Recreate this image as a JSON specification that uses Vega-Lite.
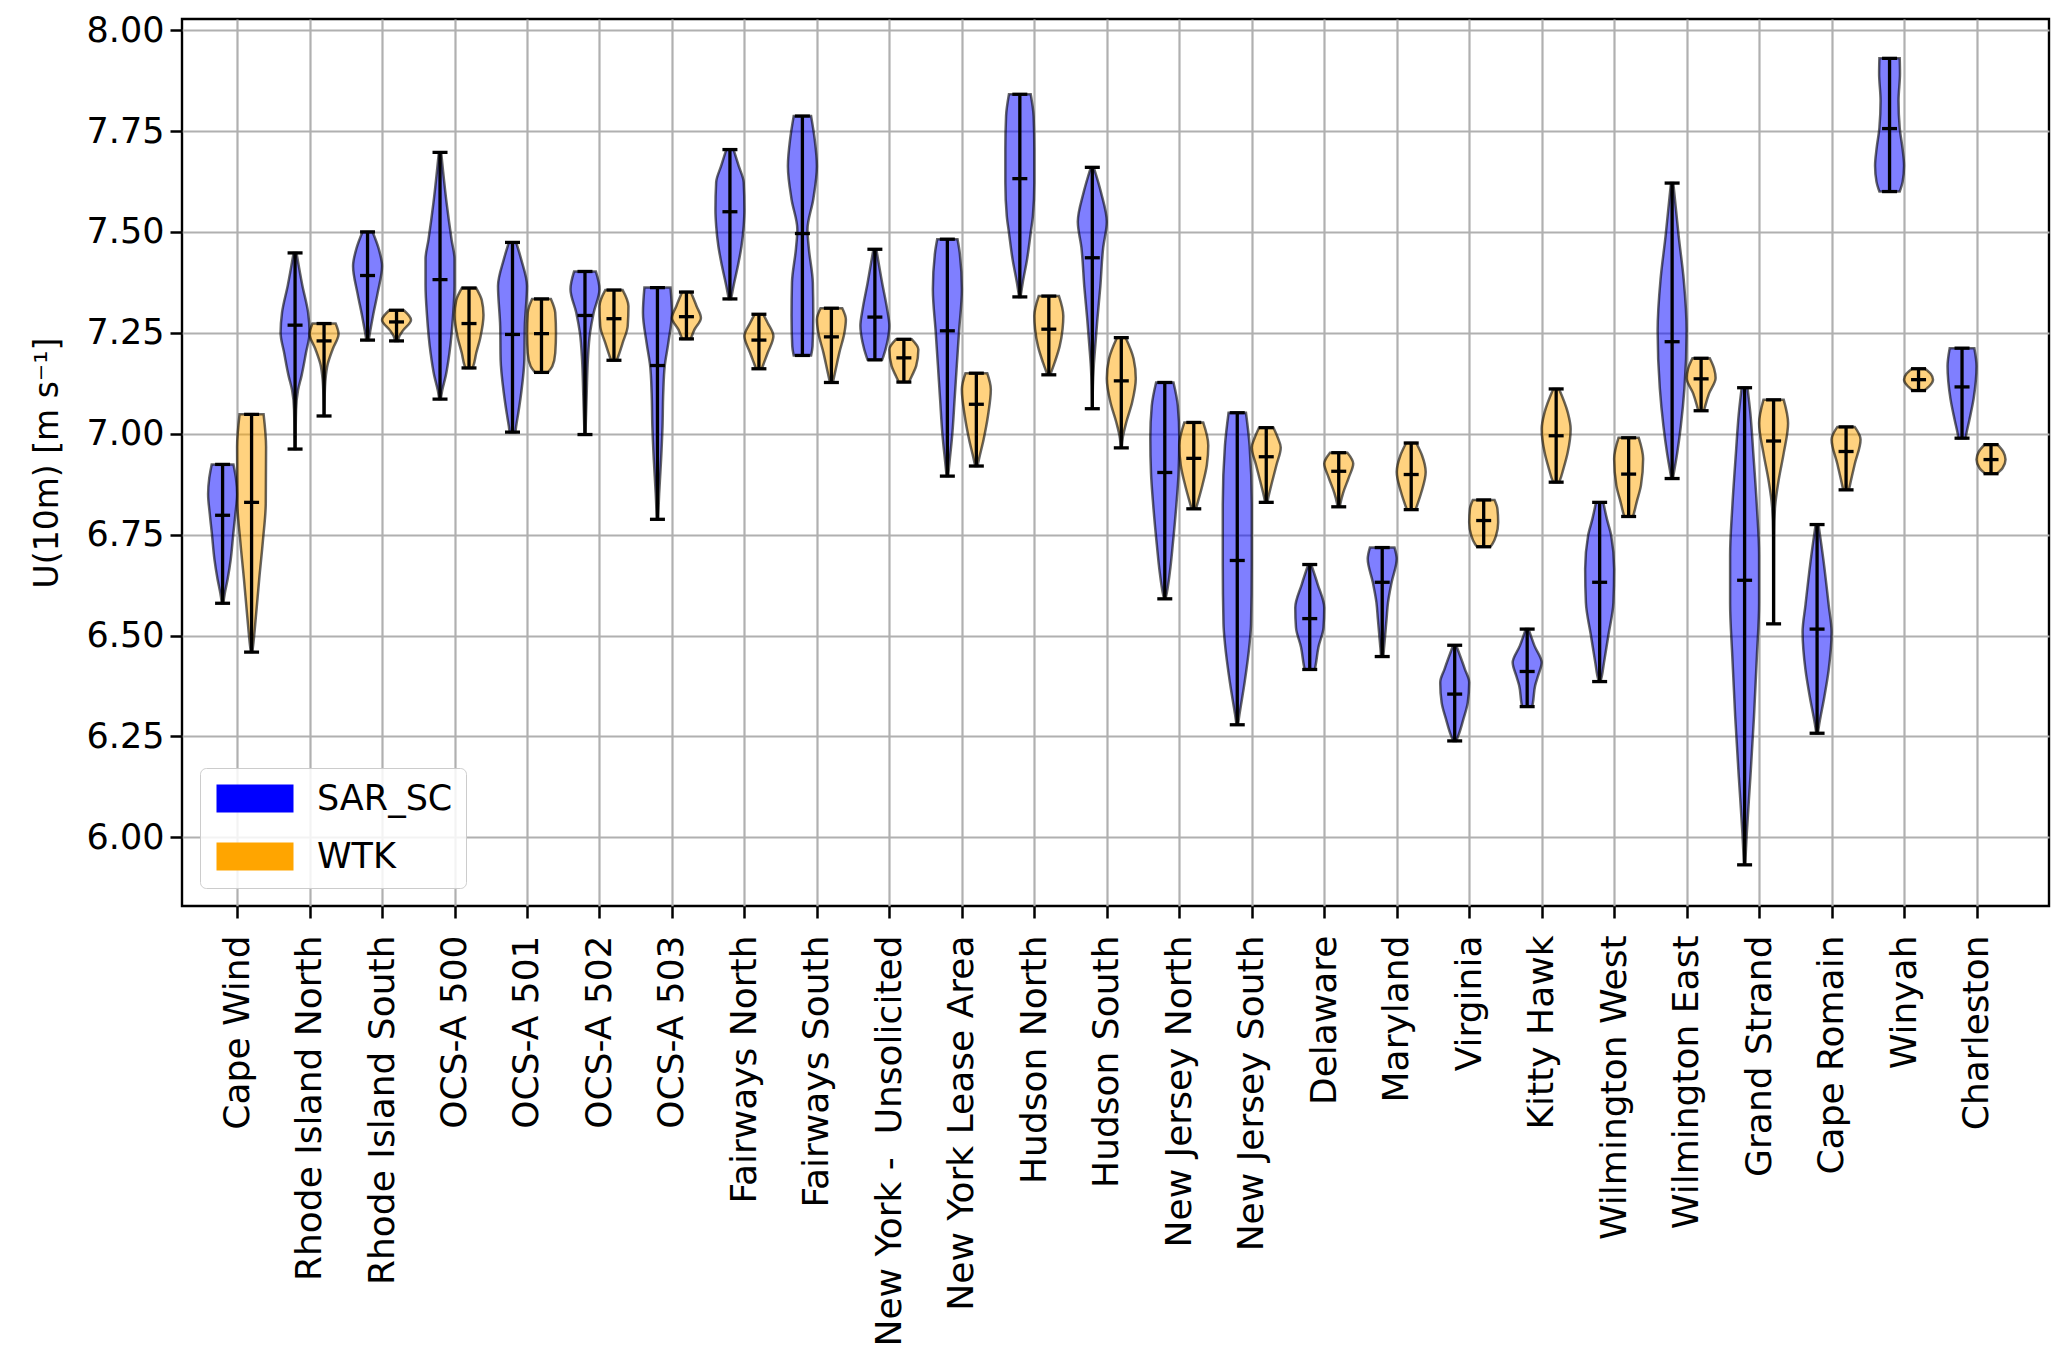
{
  "$schema": "https://vega.github.io/schema/vega-lite/v6.json",
  "autosize": {"type": "none"},
  "width": 1867,
  "height": 887,
  "padding": {"left": 182, "top": 19, "right": 18, "bottom": 466},
  "background": "white",
  "config": {
    "font": "DejaVu Sans",
    "view": {"stroke": "#000000", "strokeWidth": 2.4},
    "axis": {"labelFont": "DejaVu Sans", "titleFont": "DejaVu Sans", "labelColor": "#000000", "titleColor": "#000000"}
  },
  "datasets": {
    "violin": [
      {"site":"Cape Wind","src":"SAR_SC","v":6.924,"lo":0.65,"hi":0.95},
      {"site":"Cape Wind","src":"SAR_SC","v":6.89,"lo":0.616,"hi":0.984},
      {"site":"Cape Wind","src":"SAR_SC","v":6.851,"lo":0.6,"hi":1.0},
      {"site":"Cape Wind","src":"SAR_SC","v":6.8,"lo":0.624,"hi":0.976},
      {"site":"Cape Wind","src":"SAR_SC","v":6.753,"lo":0.652,"hi":0.948},
      {"site":"Cape Wind","src":"SAR_SC","v":6.688,"lo":0.688,"hi":0.912},
      {"site":"Cape Wind","src":"SAR_SC","v":6.64,"lo":0.73,"hi":0.87},
      {"site":"Cape Wind","src":"SAR_SC","v":6.604,"lo":0.77,"hi":0.83},
      {"site":"Cape Wind","src":"SAR_SC","v":6.58,"lo":0.79,"hi":0.81},
      {"site":"Cape Wind","src":"WTK","v":7.048,"lo":1.034,"hi":1.366},
      {"site":"Cape Wind","src":"WTK","v":6.967,"lo":1.0,"hi":1.4},
      {"site":"Cape Wind","src":"WTK","v":6.828,"lo":1.004,"hi":1.396},
      {"site":"Cape Wind","src":"WTK","v":6.734,"lo":1.044,"hi":1.356},
      {"site":"Cape Wind","src":"WTK","v":6.641,"lo":1.094,"hi":1.306},
      {"site":"Cape Wind","src":"WTK","v":6.548,"lo":1.14,"hi":1.26},
      {"site":"Cape Wind","src":"WTK","v":6.473,"lo":1.18,"hi":1.22},
      {"site":"Cape Wind","src":"WTK","v":6.459,"lo":1.19,"hi":1.21},
      {"site":"Rhode Island North","src":"SAR_SC","v":7.448,"lo":1.78,"hi":1.82},
      {"site":"Rhode Island North","src":"SAR_SC","v":7.368,"lo":1.7,"hi":1.9},
      {"site":"Rhode Island North","src":"SAR_SC","v":7.3,"lo":1.62,"hi":1.98},
      {"site":"Rhode Island North","src":"SAR_SC","v":7.25,"lo":1.6,"hi":2.0},
      {"site":"Rhode Island North","src":"SAR_SC","v":7.2,"lo":1.65,"hi":1.95},
      {"site":"Rhode Island North","src":"SAR_SC","v":7.144,"lo":1.71,"hi":1.89},
      {"site":"Rhode Island North","src":"SAR_SC","v":7.107,"lo":1.76,"hi":1.84},
      {"site":"Rhode Island North","src":"SAR_SC","v":7.06,"lo":1.786,"hi":1.814},
      {"site":"Rhode Island North","src":"SAR_SC","v":6.962,"lo":1.794,"hi":1.806},
      {"site":"Rhode Island North","src":"WTK","v":7.273,"lo":2.04,"hi":2.36},
      {"site":"Rhode Island North","src":"WTK","v":7.247,"lo":2.0,"hi":2.4},
      {"site":"Rhode Island North","src":"WTK","v":7.21,"lo":2.08,"hi":2.32},
      {"site":"Rhode Island North","src":"WTK","v":7.172,"lo":2.15,"hi":2.25},
      {"site":"Rhode Island North","src":"WTK","v":7.135,"lo":2.18,"hi":2.22},
      {"site":"Rhode Island North","src":"WTK","v":7.09,"lo":2.192,"hi":2.208},
      {"site":"Rhode Island North","src":"WTK","v":7.044,"lo":2.196,"hi":2.204},
      {"site":"Rhode Island South","src":"SAR_SC","v":7.5,"lo":2.73,"hi":2.87},
      {"site":"Rhode Island South","src":"SAR_SC","v":7.461,"lo":2.65,"hi":2.95},
      {"site":"Rhode Island South","src":"SAR_SC","v":7.415,"lo":2.6,"hi":3.0},
      {"site":"Rhode Island South","src":"SAR_SC","v":7.349,"lo":2.66,"hi":2.94},
      {"site":"Rhode Island South","src":"SAR_SC","v":7.293,"lo":2.724,"hi":2.876},
      {"site":"Rhode Island South","src":"SAR_SC","v":7.247,"lo":2.77,"hi":2.83},
      {"site":"Rhode Island South","src":"SAR_SC","v":7.232,"lo":2.784,"hi":2.816},
      {"site":"Rhode Island South","src":"WTK","v":7.306,"lo":3.1,"hi":3.3},
      {"site":"Rhode Island South","src":"WTK","v":7.282,"lo":3.0,"hi":3.4},
      {"site":"Rhode Island South","src":"WTK","v":7.256,"lo":3.11,"hi":3.29},
      {"site":"Rhode Island South","src":"WTK","v":7.242,"lo":3.16,"hi":3.24},
      {"site":"Rhode Island South","src":"WTK","v":7.23,"lo":3.18,"hi":3.22},
      {"site":"OCS-A 500","src":"SAR_SC","v":7.697,"lo":3.784,"hi":3.816},
      {"site":"OCS-A 500","src":"SAR_SC","v":7.573,"lo":3.71,"hi":3.89},
      {"site":"OCS-A 500","src":"SAR_SC","v":7.48,"lo":3.64,"hi":3.96},
      {"site":"OCS-A 500","src":"SAR_SC","v":7.433,"lo":3.6,"hi":4.0},
      {"site":"OCS-A 500","src":"SAR_SC","v":7.368,"lo":3.6,"hi":4.0},
      {"site":"OCS-A 500","src":"SAR_SC","v":7.294,"lo":3.62,"hi":3.98},
      {"site":"OCS-A 500","src":"SAR_SC","v":7.2,"lo":3.67,"hi":3.93},
      {"site":"OCS-A 500","src":"SAR_SC","v":7.144,"lo":3.72,"hi":3.88},
      {"site":"OCS-A 500","src":"SAR_SC","v":7.107,"lo":3.77,"hi":3.83},
      {"site":"OCS-A 500","src":"SAR_SC","v":7.086,"lo":3.79,"hi":3.81},
      {"site":"OCS-A 500","src":"WTK","v":7.361,"lo":4.1,"hi":4.3},
      {"site":"OCS-A 500","src":"WTK","v":7.331,"lo":4.024,"hi":4.376},
      {"site":"OCS-A 500","src":"WTK","v":7.294,"lo":4.0,"hi":4.4},
      {"site":"OCS-A 500","src":"WTK","v":7.238,"lo":4.044,"hi":4.356},
      {"site":"OCS-A 500","src":"WTK","v":7.2,"lo":4.1,"hi":4.3},
      {"site":"OCS-A 500","src":"WTK","v":7.168,"lo":4.14,"hi":4.26},
      {"site":"OCS-A 500","src":"WTK","v":7.163,"lo":4.15,"hi":4.25},
      {"site":"OCS-A 501","src":"SAR_SC","v":7.474,"lo":4.75,"hi":4.85},
      {"site":"OCS-A 501","src":"SAR_SC","v":7.432,"lo":4.68,"hi":4.92},
      {"site":"OCS-A 501","src":"SAR_SC","v":7.366,"lo":4.6,"hi":5.0},
      {"site":"OCS-A 501","src":"SAR_SC","v":7.267,"lo":4.63,"hi":4.97},
      {"site":"OCS-A 501","src":"SAR_SC","v":7.184,"lo":4.636,"hi":4.964},
      {"site":"OCS-A 501","src":"SAR_SC","v":7.101,"lo":4.68,"hi":4.92},
      {"site":"OCS-A 501","src":"SAR_SC","v":7.051,"lo":4.72,"hi":4.88},
      {"site":"OCS-A 501","src":"SAR_SC","v":7.018,"lo":4.75,"hi":4.85},
      {"site":"OCS-A 501","src":"SAR_SC","v":7.004,"lo":4.76,"hi":4.84},
      {"site":"OCS-A 501","src":"WTK","v":7.334,"lo":5.07,"hi":5.33},
      {"site":"OCS-A 501","src":"WTK","v":7.3,"lo":5.01,"hi":5.39},
      {"site":"OCS-A 501","src":"WTK","v":7.25,"lo":5.0,"hi":5.4},
      {"site":"OCS-A 501","src":"WTK","v":7.2,"lo":5.01,"hi":5.39},
      {"site":"OCS-A 501","src":"WTK","v":7.167,"lo":5.05,"hi":5.35},
      {"site":"OCS-A 501","src":"WTK","v":7.152,"lo":5.11,"hi":5.29},
      {"site":"OCS-A 502","src":"SAR_SC","v":7.402,"lo":5.65,"hi":5.95},
      {"site":"OCS-A 502","src":"SAR_SC","v":7.358,"lo":5.6,"hi":6.0},
      {"site":"OCS-A 502","src":"SAR_SC","v":7.3,"lo":5.68,"hi":5.92},
      {"site":"OCS-A 502","src":"SAR_SC","v":7.25,"lo":5.73,"hi":5.87},
      {"site":"OCS-A 502","src":"SAR_SC","v":7.184,"lo":5.76,"hi":5.84},
      {"site":"OCS-A 502","src":"SAR_SC","v":7.101,"lo":5.776,"hi":5.824},
      {"site":"OCS-A 502","src":"SAR_SC","v":7.018,"lo":5.79,"hi":5.81},
      {"site":"OCS-A 502","src":"SAR_SC","v":6.998,"lo":5.794,"hi":5.806},
      {"site":"OCS-A 502","src":"WTK","v":7.356,"lo":6.08,"hi":6.32},
      {"site":"OCS-A 502","src":"WTK","v":7.316,"lo":6.0,"hi":6.4},
      {"site":"OCS-A 502","src":"WTK","v":7.267,"lo":6.01,"hi":6.39},
      {"site":"OCS-A 502","src":"WTK","v":7.225,"lo":6.08,"hi":6.32},
      {"site":"OCS-A 502","src":"WTK","v":7.192,"lo":6.14,"hi":6.26},
      {"site":"OCS-A 502","src":"WTK","v":7.182,"lo":6.16,"hi":6.24},
      {"site":"OCS-A 503","src":"SAR_SC","v":7.362,"lo":6.62,"hi":6.98},
      {"site":"OCS-A 503","src":"SAR_SC","v":7.3,"lo":6.6,"hi":7.0},
      {"site":"OCS-A 503","src":"SAR_SC","v":7.225,"lo":6.65,"hi":6.95},
      {"site":"OCS-A 503","src":"SAR_SC","v":7.167,"lo":6.7,"hi":6.9},
      {"site":"OCS-A 503","src":"SAR_SC","v":7.101,"lo":6.72,"hi":6.88},
      {"site":"OCS-A 503","src":"SAR_SC","v":7.018,"lo":6.73,"hi":6.87},
      {"site":"OCS-A 503","src":"SAR_SC","v":6.935,"lo":6.75,"hi":6.85},
      {"site":"OCS-A 503","src":"SAR_SC","v":6.853,"lo":6.776,"hi":6.824},
      {"site":"OCS-A 503","src":"SAR_SC","v":6.788,"lo":6.792,"hi":6.808},
      {"site":"OCS-A 503","src":"WTK","v":7.351,"lo":7.14,"hi":7.26},
      {"site":"OCS-A 503","src":"WTK","v":7.316,"lo":7.06,"hi":7.34},
      {"site":"OCS-A 503","src":"WTK","v":7.287,"lo":7.0,"hi":7.4},
      {"site":"OCS-A 503","src":"WTK","v":7.258,"lo":7.09,"hi":7.31},
      {"site":"OCS-A 503","src":"WTK","v":7.235,"lo":7.14,"hi":7.26},
      {"site":"Fairways North","src":"SAR_SC","v":7.704,"lo":7.75,"hi":7.85},
      {"site":"Fairways North","src":"SAR_SC","v":7.664,"lo":7.68,"hi":7.92},
      {"site":"Fairways North","src":"SAR_SC","v":7.623,"lo":7.61,"hi":7.99},
      {"site":"Fairways North","src":"SAR_SC","v":7.556,"lo":7.6,"hi":8.0},
      {"site":"Fairways North","src":"SAR_SC","v":7.515,"lo":7.61,"hi":7.99},
      {"site":"Fairways North","src":"SAR_SC","v":7.465,"lo":7.64,"hi":7.96},
      {"site":"Fairways North","src":"SAR_SC","v":7.416,"lo":7.69,"hi":7.91},
      {"site":"Fairways North","src":"SAR_SC","v":7.366,"lo":7.75,"hi":7.85},
      {"site":"Fairways North","src":"SAR_SC","v":7.334,"lo":7.784,"hi":7.816},
      {"site":"Fairways North","src":"WTK","v":7.296,"lo":8.14,"hi":8.26},
      {"site":"Fairways North","src":"WTK","v":7.275,"lo":8.08,"hi":8.32},
      {"site":"Fairways North","src":"WTK","v":7.242,"lo":8.0,"hi":8.4},
      {"site":"Fairways North","src":"WTK","v":7.2,"lo":8.08,"hi":8.32},
      {"site":"Fairways North","src":"WTK","v":7.171,"lo":8.14,"hi":8.26},
      {"site":"Fairways North","src":"WTK","v":7.161,"lo":8.16,"hi":8.24},
      {"site":"Fairways South","src":"SAR_SC","v":7.787,"lo":8.68,"hi":8.92},
      {"site":"Fairways South","src":"SAR_SC","v":7.729,"lo":8.63,"hi":8.97},
      {"site":"Fairways South","src":"SAR_SC","v":7.663,"lo":8.6,"hi":9.0},
      {"site":"Fairways South","src":"SAR_SC","v":7.581,"lo":8.65,"hi":8.95},
      {"site":"Fairways South","src":"SAR_SC","v":7.506,"lo":8.73,"hi":8.87},
      {"site":"Fairways South","src":"SAR_SC","v":7.457,"lo":8.71,"hi":8.89},
      {"site":"Fairways South","src":"SAR_SC","v":7.374,"lo":8.656,"hi":8.944},
      {"site":"Fairways South","src":"SAR_SC","v":7.292,"lo":8.65,"hi":8.95},
      {"site":"Fairways South","src":"SAR_SC","v":7.217,"lo":8.66,"hi":8.94},
      {"site":"Fairways South","src":"SAR_SC","v":7.194,"lo":8.68,"hi":8.92},
      {"site":"Fairways South","src":"WTK","v":7.311,"lo":9.05,"hi":9.35},
      {"site":"Fairways South","src":"WTK","v":7.283,"lo":9.0,"hi":9.4},
      {"site":"Fairways South","src":"WTK","v":7.25,"lo":9.02,"hi":9.38},
      {"site":"Fairways South","src":"WTK","v":7.201,"lo":9.09,"hi":9.31},
      {"site":"Fairways South","src":"WTK","v":7.16,"lo":9.14,"hi":9.26},
      {"site":"Fairways South","src":"WTK","v":7.135,"lo":9.17,"hi":9.23},
      {"site":"Fairways South","src":"WTK","v":7.127,"lo":9.18,"hi":9.22},
      {"site":"New York - Unsolicited","src":"SAR_SC","v":7.457,"lo":9.78,"hi":9.82},
      {"site":"New York - Unsolicited","src":"SAR_SC","v":7.374,"lo":9.7,"hi":9.9},
      {"site":"New York - Unsolicited","src":"SAR_SC","v":7.308,"lo":9.63,"hi":9.97},
      {"site":"New York - Unsolicited","src":"SAR_SC","v":7.267,"lo":9.6,"hi":10.0},
      {"site":"New York - Unsolicited","src":"SAR_SC","v":7.226,"lo":9.63,"hi":9.97},
      {"site":"New York - Unsolicited","src":"SAR_SC","v":7.193,"lo":9.68,"hi":9.92},
      {"site":"New York - Unsolicited","src":"SAR_SC","v":7.183,"lo":9.7,"hi":9.9},
      {"site":"New York - Unsolicited","src":"WTK","v":7.234,"lo":10.09,"hi":10.31},
      {"site":"New York - Unsolicited","src":"WTK","v":7.209,"lo":10.0,"hi":10.4},
      {"site":"New York - Unsolicited","src":"WTK","v":7.168,"lo":10.03,"hi":10.37},
      {"site":"New York - Unsolicited","src":"WTK","v":7.143,"lo":10.09,"hi":10.31},
      {"site":"New York - Unsolicited","src":"WTK","v":7.128,"lo":10.13,"hi":10.27},
      {"site":"New York Lease Area","src":"SAR_SC","v":7.482,"lo":10.66,"hi":10.94},
      {"site":"New York Lease Area","src":"SAR_SC","v":7.449,"lo":10.63,"hi":10.97},
      {"site":"New York Lease Area","src":"SAR_SC","v":7.358,"lo":10.6,"hi":11.0},
      {"site":"New York Lease Area","src":"SAR_SC","v":7.25,"lo":10.64,"hi":10.96},
      {"site":"New York Lease Area","src":"SAR_SC","v":7.168,"lo":10.67,"hi":10.93},
      {"site":"New York Lease Area","src":"SAR_SC","v":7.085,"lo":10.7,"hi":10.9},
      {"site":"New York Lease Area","src":"SAR_SC","v":7.003,"lo":10.73,"hi":10.87},
      {"site":"New York Lease Area","src":"SAR_SC","v":6.93,"lo":10.77,"hi":10.83},
      {"site":"New York Lease Area","src":"SAR_SC","v":6.895,"lo":10.79,"hi":10.81},
      {"site":"New York Lease Area","src":"WTK","v":7.15,"lo":11.05,"hi":11.35},
      {"site":"New York Lease Area","src":"WTK","v":7.11,"lo":11.0,"hi":11.4},
      {"site":"New York Lease Area","src":"WTK","v":7.044,"lo":11.04,"hi":11.36},
      {"site":"New York Lease Area","src":"WTK","v":6.986,"lo":11.1,"hi":11.3},
      {"site":"New York Lease Area","src":"WTK","v":6.94,"lo":11.16,"hi":11.24},
      {"site":"New York Lease Area","src":"WTK","v":6.92,"lo":11.184,"hi":11.216},
      {"site":"Hudson North","src":"SAR_SC","v":7.841,"lo":11.65,"hi":11.95},
      {"site":"Hudson North","src":"SAR_SC","v":7.787,"lo":11.61,"hi":11.99},
      {"site":"Hudson North","src":"SAR_SC","v":7.705,"lo":11.6,"hi":12.0},
      {"site":"Hudson North","src":"SAR_SC","v":7.622,"lo":11.6,"hi":12.0},
      {"site":"Hudson North","src":"SAR_SC","v":7.539,"lo":11.62,"hi":11.98},
      {"site":"Hudson North","src":"SAR_SC","v":7.498,"lo":11.65,"hi":11.95},
      {"site":"Hudson North","src":"SAR_SC","v":7.432,"lo":11.7,"hi":11.9},
      {"site":"Hudson North","src":"SAR_SC","v":7.374,"lo":11.76,"hi":11.84},
      {"site":"Hudson North","src":"SAR_SC","v":7.339,"lo":11.79,"hi":11.81},
      {"site":"Hudson North","src":"WTK","v":7.341,"lo":12.06,"hi":12.34},
      {"site":"Hudson North","src":"WTK","v":7.292,"lo":12.0,"hi":12.4},
      {"site":"Hudson North","src":"WTK","v":7.26,"lo":12.01,"hi":12.39},
      {"site":"Hudson North","src":"WTK","v":7.217,"lo":12.05,"hi":12.35},
      {"site":"Hudson North","src":"WTK","v":7.176,"lo":12.12,"hi":12.28},
      {"site":"Hudson North","src":"WTK","v":7.151,"lo":12.17,"hi":12.23},
      {"site":"Hudson North","src":"WTK","v":7.146,"lo":12.18,"hi":12.22},
      {"site":"Hudson South","src":"SAR_SC","v":7.66,"lo":12.78,"hi":12.82},
      {"site":"Hudson South","src":"SAR_SC","v":7.598,"lo":12.68,"hi":12.92},
      {"site":"Hudson South","src":"SAR_SC","v":7.525,"lo":12.6,"hi":13.0},
      {"site":"Hudson South","src":"SAR_SC","v":7.461,"lo":12.65,"hi":12.95},
      {"site":"Hudson South","src":"SAR_SC","v":7.363,"lo":12.69,"hi":12.91},
      {"site":"Hudson South","src":"SAR_SC","v":7.284,"lo":12.73,"hi":12.87},
      {"site":"Hudson South","src":"SAR_SC","v":7.216,"lo":12.76,"hi":12.84},
      {"site":"Hudson South","src":"SAR_SC","v":7.167,"lo":12.78,"hi":12.82},
      {"site":"Hudson South","src":"SAR_SC","v":7.118,"lo":12.792,"hi":12.808},
      {"site":"Hudson South","src":"SAR_SC","v":7.062,"lo":12.796,"hi":12.804},
      {"site":"Hudson South","src":"WTK","v":7.238,"lo":13.14,"hi":13.26},
      {"site":"Hudson South","src":"WTK","v":7.186,"lo":13.03,"hi":13.37},
      {"site":"Hudson South","src":"WTK","v":7.137,"lo":13.0,"hi":13.4},
      {"site":"Hudson South","src":"WTK","v":7.078,"lo":13.05,"hi":13.35},
      {"site":"Hudson South","src":"WTK","v":7.029,"lo":13.13,"hi":13.27},
      {"site":"Hudson South","src":"WTK","v":6.99,"lo":13.18,"hi":13.22},
      {"site":"Hudson South","src":"WTK","v":6.965,"lo":13.194,"hi":13.206},
      {"site":"New Jersey North","src":"SAR_SC","v":7.127,"lo":13.68,"hi":13.92},
      {"site":"New Jersey North","src":"SAR_SC","v":7.069,"lo":13.62,"hi":13.98},
      {"site":"New Jersey North","src":"SAR_SC","v":6.99,"lo":13.6,"hi":14.0},
      {"site":"New Jersey North","src":"SAR_SC","v":6.902,"lo":13.61,"hi":13.99},
      {"site":"New Jersey North","src":"SAR_SC","v":6.824,"lo":13.64,"hi":13.96},
      {"site":"New Jersey North","src":"SAR_SC","v":6.725,"lo":13.69,"hi":13.91},
      {"site":"New Jersey North","src":"SAR_SC","v":6.657,"lo":13.73,"hi":13.87},
      {"site":"New Jersey North","src":"SAR_SC","v":6.608,"lo":13.77,"hi":13.83},
      {"site":"New Jersey North","src":"SAR_SC","v":6.591,"lo":13.79,"hi":13.81},
      {"site":"New Jersey North","src":"WTK","v":7.028,"lo":14.07,"hi":14.33},
      {"site":"New Jersey North","src":"WTK","v":6.971,"lo":14.0,"hi":14.4},
      {"site":"New Jersey North","src":"WTK","v":6.922,"lo":14.02,"hi":14.38},
      {"site":"New Jersey North","src":"WTK","v":6.873,"lo":14.08,"hi":14.32},
      {"site":"New Jersey North","src":"WTK","v":6.833,"lo":14.14,"hi":14.26},
      {"site":"New Jersey North","src":"WTK","v":6.814,"lo":14.17,"hi":14.23},
      {"site":"New Jersey South","src":"SAR_SC","v":7.052,"lo":14.68,"hi":14.92},
      {"site":"New Jersey South","src":"SAR_SC","v":6.971,"lo":14.63,"hi":14.97},
      {"site":"New Jersey South","src":"SAR_SC","v":6.824,"lo":14.6,"hi":15.0},
      {"site":"New Jersey South","src":"SAR_SC","v":6.676,"lo":14.6,"hi":15.0},
      {"site":"New Jersey South","src":"SAR_SC","v":6.529,"lo":14.61,"hi":14.99},
      {"site":"New Jersey South","src":"SAR_SC","v":6.48,"lo":14.63,"hi":14.97},
      {"site":"New Jersey South","src":"SAR_SC","v":6.382,"lo":14.7,"hi":14.9},
      {"site":"New Jersey South","src":"SAR_SC","v":6.304,"lo":14.77,"hi":14.83},
      {"site":"New Jersey South","src":"SAR_SC","v":6.279,"lo":14.79,"hi":14.81},
      {"site":"New Jersey South","src":"WTK","v":7.015,"lo":15.1,"hi":15.3},
      {"site":"New Jersey South","src":"WTK","v":6.99,"lo":15.04,"hi":15.36},
      {"site":"New Jersey South","src":"WTK","v":6.966,"lo":15.0,"hi":15.4},
      {"site":"New Jersey South","src":"WTK","v":6.922,"lo":15.06,"hi":15.34},
      {"site":"New Jersey South","src":"WTK","v":6.873,"lo":15.13,"hi":15.27},
      {"site":"New Jersey South","src":"WTK","v":6.843,"lo":15.17,"hi":15.23},
      {"site":"New Jersey South","src":"WTK","v":6.83,"lo":15.184,"hi":15.216},
      {"site":"Delaware","src":"SAR_SC","v":6.676,"lo":15.78,"hi":15.82},
      {"site":"Delaware","src":"SAR_SC","v":6.627,"lo":15.69,"hi":15.91},
      {"site":"Delaware","src":"SAR_SC","v":6.569,"lo":15.6,"hi":16.0},
      {"site":"Delaware","src":"SAR_SC","v":6.52,"lo":15.61,"hi":15.99},
      {"site":"Delaware","src":"SAR_SC","v":6.471,"lo":15.68,"hi":15.92},
      {"site":"Delaware","src":"SAR_SC","v":6.425,"lo":15.72,"hi":15.88},
      {"site":"Delaware","src":"SAR_SC","v":6.416,"lo":15.73,"hi":15.87},
      {"site":"Delaware","src":"WTK","v":6.953,"lo":16.08,"hi":16.32},
      {"site":"Delaware","src":"WTK","v":6.926,"lo":16.0,"hi":16.4},
      {"site":"Delaware","src":"WTK","v":6.892,"lo":16.06,"hi":16.34},
      {"site":"Delaware","src":"WTK","v":6.853,"lo":16.14,"hi":16.26},
      {"site":"Delaware","src":"WTK","v":6.828,"lo":16.176,"hi":16.224},
      {"site":"Delaware","src":"WTK","v":6.819,"lo":16.184,"hi":16.216},
      {"site":"Maryland","src":"SAR_SC","v":6.718,"lo":16.63,"hi":16.97},
      {"site":"Maryland","src":"SAR_SC","v":6.69,"lo":16.6,"hi":17.0},
      {"site":"Maryland","src":"SAR_SC","v":6.632,"lo":16.67,"hi":16.93},
      {"site":"Maryland","src":"SAR_SC","v":6.582,"lo":16.72,"hi":16.88},
      {"site":"Maryland","src":"SAR_SC","v":6.541,"lo":16.74,"hi":16.86},
      {"site":"Maryland","src":"SAR_SC","v":6.5,"lo":16.76,"hi":16.84},
      {"site":"Maryland","src":"SAR_SC","v":6.458,"lo":16.78,"hi":16.82},
      {"site":"Maryland","src":"SAR_SC","v":6.448,"lo":16.784,"hi":16.816},
      {"site":"Maryland","src":"WTK","v":6.977,"lo":17.13,"hi":17.27},
      {"site":"Maryland","src":"WTK","v":6.946,"lo":17.05,"hi":17.35},
      {"site":"Maryland","src":"WTK","v":6.905,"lo":17.0,"hi":17.4},
      {"site":"Maryland","src":"WTK","v":6.855,"lo":17.06,"hi":17.34},
      {"site":"Maryland","src":"WTK","v":6.822,"lo":17.12,"hi":17.28},
      {"site":"Maryland","src":"WTK","v":6.812,"lo":17.14,"hi":17.26},
      {"site":"Virginia","src":"SAR_SC","v":6.476,"lo":17.78,"hi":17.82},
      {"site":"Virginia","src":"SAR_SC","v":6.417,"lo":17.66,"hi":17.94},
      {"site":"Virginia","src":"SAR_SC","v":6.384,"lo":17.6,"hi":18.0},
      {"site":"Virginia","src":"SAR_SC","v":6.334,"lo":17.62,"hi":17.98},
      {"site":"Virginia","src":"SAR_SC","v":6.293,"lo":17.68,"hi":17.92},
      {"site":"Virginia","src":"SAR_SC","v":6.252,"lo":17.75,"hi":17.85},
      {"site":"Virginia","src":"SAR_SC","v":6.239,"lo":17.78,"hi":17.82},
      {"site":"Virginia","src":"WTK","v":6.836,"lo":18.05,"hi":18.35},
      {"site":"Virginia","src":"WTK","v":6.814,"lo":18.01,"hi":18.39},
      {"site":"Virginia","src":"WTK","v":6.781,"lo":18.0,"hi":18.4},
      {"site":"Virginia","src":"WTK","v":6.747,"lo":18.03,"hi":18.37},
      {"site":"Virginia","src":"WTK","v":6.727,"lo":18.08,"hi":18.32},
      {"site":"Virginia","src":"WTK","v":6.72,"lo":18.11,"hi":18.29},
      {"site":"Kitty Hawk","src":"SAR_SC","v":6.516,"lo":18.78,"hi":18.82},
      {"site":"Kitty Hawk","src":"SAR_SC","v":6.475,"lo":18.7,"hi":18.9},
      {"site":"Kitty Hawk","src":"SAR_SC","v":6.433,"lo":18.6,"hi":19.0},
      {"site":"Kitty Hawk","src":"SAR_SC","v":6.4,"lo":18.65,"hi":18.95},
      {"site":"Kitty Hawk","src":"SAR_SC","v":6.376,"lo":18.69,"hi":18.91},
      {"site":"Kitty Hawk","src":"SAR_SC","v":6.334,"lo":18.72,"hi":18.88},
      {"site":"Kitty Hawk","src":"SAR_SC","v":6.324,"lo":18.73,"hi":18.87},
      {"site":"Kitty Hawk","src":"WTK","v":7.111,"lo":19.16,"hi":19.24},
      {"site":"Kitty Hawk","src":"WTK","v":7.053,"lo":19.04,"hi":19.36},
      {"site":"Kitty Hawk","src":"WTK","v":7.012,"lo":19.0,"hi":19.4},
      {"site":"Kitty Hawk","src":"WTK","v":6.954,"lo":19.04,"hi":19.36},
      {"site":"Kitty Hawk","src":"WTK","v":6.913,"lo":19.1,"hi":19.3},
      {"site":"Kitty Hawk","src":"WTK","v":6.884,"lo":19.15,"hi":19.25},
      {"site":"Kitty Hawk","src":"WTK","v":6.88,"lo":19.16,"hi":19.24},
      {"site":"Wilmington West","src":"SAR_SC","v":6.83,"lo":19.75,"hi":19.85},
      {"site":"Wilmington West","src":"SAR_SC","v":6.789,"lo":19.7,"hi":19.9},
      {"site":"Wilmington West","src":"SAR_SC","v":6.747,"lo":19.64,"hi":19.96},
      {"site":"Wilmington West","src":"SAR_SC","v":6.665,"lo":19.6,"hi":20.0},
      {"site":"Wilmington West","src":"SAR_SC","v":6.582,"lo":19.61,"hi":19.99},
      {"site":"Wilmington West","src":"SAR_SC","v":6.5,"lo":19.68,"hi":19.92},
      {"site":"Wilmington West","src":"SAR_SC","v":6.433,"lo":19.74,"hi":19.86},
      {"site":"Wilmington West","src":"SAR_SC","v":6.392,"lo":19.78,"hi":19.82},
      {"site":"Wilmington West","src":"SAR_SC","v":6.386,"lo":19.79,"hi":19.81},
      {"site":"Wilmington West","src":"WTK","v":6.99,"lo":20.06,"hi":20.34},
      {"site":"Wilmington West","src":"WTK","v":6.938,"lo":20.0,"hi":20.4},
      {"site":"Wilmington West","src":"WTK","v":6.872,"lo":20.03,"hi":20.37},
      {"site":"Wilmington West","src":"WTK","v":6.83,"lo":20.09,"hi":20.31},
      {"site":"Wilmington West","src":"WTK","v":6.801,"lo":20.13,"hi":20.27},
      {"site":"Wilmington West","src":"WTK","v":6.795,"lo":20.14,"hi":20.26},
      {"site":"Wilmington East","src":"SAR_SC","v":7.621,"lo":20.784,"hi":20.816},
      {"site":"Wilmington East","src":"SAR_SC","v":7.49,"lo":20.71,"hi":20.89},
      {"site":"Wilmington East","src":"SAR_SC","v":7.382,"lo":20.64,"hi":20.96},
      {"site":"Wilmington East","src":"SAR_SC","v":7.255,"lo":20.6,"hi":21.0},
      {"site":"Wilmington East","src":"SAR_SC","v":7.113,"lo":20.63,"hi":20.97},
      {"site":"Wilmington East","src":"SAR_SC","v":7.019,"lo":20.68,"hi":20.92},
      {"site":"Wilmington East","src":"SAR_SC","v":6.952,"lo":20.73,"hi":20.87},
      {"site":"Wilmington East","src":"SAR_SC","v":6.899,"lo":20.78,"hi":20.82},
      {"site":"Wilmington East","src":"SAR_SC","v":6.889,"lo":20.79,"hi":20.81},
      {"site":"Wilmington East","src":"WTK","v":7.187,"lo":21.08,"hi":21.32},
      {"site":"Wilmington East","src":"WTK","v":7.161,"lo":21.02,"hi":21.38},
      {"site":"Wilmington East","src":"WTK","v":7.138,"lo":21.0,"hi":21.4},
      {"site":"Wilmington East","src":"WTK","v":7.1,"lo":21.09,"hi":21.31},
      {"site":"Wilmington East","src":"WTK","v":7.071,"lo":21.14,"hi":21.26},
      {"site":"Wilmington East","src":"WTK","v":7.057,"lo":21.16,"hi":21.24},
      {"site":"Grand Strand","src":"SAR_SC","v":7.114,"lo":21.76,"hi":21.84},
      {"site":"Grand Strand","src":"SAR_SC","v":7.05,"lo":21.72,"hi":21.88},
      {"site":"Grand Strand","src":"SAR_SC","v":6.952,"lo":21.68,"hi":21.92},
      {"site":"Grand Strand","src":"SAR_SC","v":6.818,"lo":21.63,"hi":21.97},
      {"site":"Grand Strand","src":"SAR_SC","v":6.7,"lo":21.6,"hi":22.0},
      {"site":"Grand Strand","src":"SAR_SC","v":6.58,"lo":21.6,"hi":22.0},
      {"site":"Grand Strand","src":"SAR_SC","v":6.45,"lo":21.63,"hi":21.97},
      {"site":"Grand Strand","src":"SAR_SC","v":6.3,"lo":21.67,"hi":21.93},
      {"site":"Grand Strand","src":"SAR_SC","v":6.15,"lo":21.72,"hi":21.88},
      {"site":"Grand Strand","src":"SAR_SC","v":6.01,"lo":21.77,"hi":21.83},
      {"site":"Grand Strand","src":"SAR_SC","v":5.932,"lo":21.792,"hi":21.808},
      {"site":"Grand Strand","src":"WTK","v":7.084,"lo":22.06,"hi":22.34},
      {"site":"Grand Strand","src":"WTK","v":7.026,"lo":22.0,"hi":22.4},
      {"site":"Grand Strand","src":"WTK","v":6.952,"lo":22.06,"hi":22.34},
      {"site":"Grand Strand","src":"WTK","v":6.885,"lo":22.13,"hi":22.27},
      {"site":"Grand Strand","src":"WTK","v":6.818,"lo":22.18,"hi":22.22},
      {"site":"Grand Strand","src":"WTK","v":6.751,"lo":22.194,"hi":22.206},
      {"site":"Grand Strand","src":"WTK","v":6.529,"lo":22.196,"hi":22.204},
      {"site":"Cape Romain","src":"SAR_SC","v":6.775,"lo":22.78,"hi":22.82},
      {"site":"Cape Romain","src":"SAR_SC","v":6.684,"lo":22.71,"hi":22.89},
      {"site":"Cape Romain","src":"SAR_SC","v":6.576,"lo":22.64,"hi":22.96},
      {"site":"Cape Romain","src":"SAR_SC","v":6.509,"lo":22.6,"hi":23.0},
      {"site":"Cape Romain","src":"SAR_SC","v":6.415,"lo":22.64,"hi":22.96},
      {"site":"Cape Romain","src":"SAR_SC","v":6.348,"lo":22.7,"hi":22.9},
      {"site":"Cape Romain","src":"SAR_SC","v":6.281,"lo":22.77,"hi":22.83},
      {"site":"Cape Romain","src":"SAR_SC","v":6.258,"lo":22.79,"hi":22.81},
      {"site":"Cape Romain","src":"WTK","v":7.017,"lo":23.08,"hi":23.32},
      {"site":"Cape Romain","src":"WTK","v":6.986,"lo":23.0,"hi":23.4},
      {"site":"Cape Romain","src":"WTK","v":6.925,"lo":23.08,"hi":23.32},
      {"site":"Cape Romain","src":"WTK","v":6.878,"lo":23.14,"hi":23.26},
      {"site":"Cape Romain","src":"WTK","v":6.861,"lo":23.16,"hi":23.24},
      {"site":"Winyah","src":"SAR_SC","v":7.93,"lo":23.66,"hi":23.94},
      {"site":"Winyah","src":"SAR_SC","v":7.893,"lo":23.656,"hi":23.944},
      {"site":"Winyah","src":"SAR_SC","v":7.825,"lo":23.676,"hi":23.924},
      {"site":"Winyah","src":"SAR_SC","v":7.758,"lo":23.66,"hi":23.94},
      {"site":"Winyah","src":"SAR_SC","v":7.705,"lo":23.62,"hi":23.98},
      {"site":"Winyah","src":"SAR_SC","v":7.664,"lo":23.6,"hi":24.0},
      {"site":"Winyah","src":"SAR_SC","v":7.624,"lo":23.62,"hi":23.98},
      {"site":"Winyah","src":"SAR_SC","v":7.6,"lo":23.66,"hi":23.94},
      {"site":"Winyah","src":"WTK","v":7.161,"lo":24.11,"hi":24.29},
      {"site":"Winyah","src":"WTK","v":7.148,"lo":24.03,"hi":24.37},
      {"site":"Winyah","src":"WTK","v":7.134,"lo":24.0,"hi":24.4},
      {"site":"Winyah","src":"WTK","v":7.12,"lo":24.04,"hi":24.36},
      {"site":"Winyah","src":"WTK","v":7.107,"lo":24.12,"hi":24.28},
      {"site":"Charleston","src":"SAR_SC","v":7.212,"lo":24.63,"hi":24.97},
      {"site":"Charleston","src":"SAR_SC","v":7.167,"lo":24.6,"hi":25.0},
      {"site":"Charleston","src":"SAR_SC","v":7.087,"lo":24.64,"hi":24.96},
      {"site":"Charleston","src":"SAR_SC","v":7.033,"lo":24.7,"hi":24.9},
      {"site":"Charleston","src":"SAR_SC","v":7.0,"lo":24.74,"hi":24.86},
      {"site":"Charleston","src":"SAR_SC","v":6.989,"lo":24.75,"hi":24.85},
      {"site":"Charleston","src":"WTK","v":6.973,"lo":25.11,"hi":25.29},
      {"site":"Charleston","src":"WTK","v":6.955,"lo":25.03,"hi":25.37},
      {"site":"Charleston","src":"WTK","v":6.936,"lo":25.0,"hi":25.4},
      {"site":"Charleston","src":"WTK","v":6.915,"lo":25.04,"hi":25.36},
      {"site":"Charleston","src":"WTK","v":6.901,"lo":25.12,"hi":25.28}
    ],
    "stats": [
      {"site":"Cape Wind","src":"SAR_SC","pos":0.8,"min":6.58,"med":6.798,"max":6.924},
      {"site":"Cape Wind","src":"WTK","pos":1.2,"min":6.459,"med":6.83,"max":7.048},
      {"site":"Rhode Island North","src":"SAR_SC","pos":1.8,"min":6.962,"med":7.269,"max":7.448},
      {"site":"Rhode Island North","src":"WTK","pos":2.2,"min":7.044,"med":7.23,"max":7.273},
      {"site":"Rhode Island South","src":"SAR_SC","pos":2.8,"min":7.232,"med":7.392,"max":7.5},
      {"site":"Rhode Island South","src":"WTK","pos":3.2,"min":7.23,"med":7.277,"max":7.306},
      {"site":"OCS-A 500","src":"SAR_SC","pos":3.8,"min":7.086,"med":7.382,"max":7.697},
      {"site":"OCS-A 500","src":"WTK","pos":4.2,"min":7.163,"med":7.273,"max":7.361},
      {"site":"OCS-A 501","src":"SAR_SC","pos":4.8,"min":7.004,"med":7.246,"max":7.474},
      {"site":"OCS-A 501","src":"WTK","pos":5.2,"min":7.152,"med":7.248,"max":7.334},
      {"site":"OCS-A 502","src":"SAR_SC","pos":5.8,"min":6.998,"med":7.293,"max":7.402},
      {"site":"OCS-A 502","src":"WTK","pos":6.2,"min":7.182,"med":7.285,"max":7.356},
      {"site":"OCS-A 503","src":"SAR_SC","pos":6.8,"min":6.788,"med":7.169,"max":7.362},
      {"site":"OCS-A 503","src":"WTK","pos":7.2,"min":7.235,"med":7.29,"max":7.351},
      {"site":"Fairways North","src":"SAR_SC","pos":7.8,"min":7.334,"med":7.55,"max":7.704},
      {"site":"Fairways North","src":"WTK","pos":8.2,"min":7.161,"med":7.232,"max":7.296},
      {"site":"Fairways South","src":"SAR_SC","pos":8.8,"min":7.194,"med":7.496,"max":7.787},
      {"site":"Fairways South","src":"WTK","pos":9.2,"min":7.127,"med":7.24,"max":7.311},
      {"site":"New York - Unsolicited","src":"SAR_SC","pos":9.8,"min":7.183,"med":7.289,"max":7.457},
      {"site":"New York - Unsolicited","src":"WTK","pos":10.2,"min":7.128,"med":7.188,"max":7.234},
      {"site":"New York Lease Area","src":"SAR_SC","pos":10.8,"min":6.895,"med":7.255,"max":7.482},
      {"site":"New York Lease Area","src":"WTK","pos":11.2,"min":6.92,"med":7.073,"max":7.15},
      {"site":"Hudson North","src":"SAR_SC","pos":11.8,"min":7.339,"med":7.632,"max":7.841},
      {"site":"Hudson North","src":"WTK","pos":12.2,"min":7.146,"med":7.259,"max":7.341},
      {"site":"Hudson South","src":"SAR_SC","pos":12.8,"min":7.062,"med":7.436,"max":7.66},
      {"site":"Hudson South","src":"WTK","pos":13.2,"min":6.965,"med":7.131,"max":7.238},
      {"site":"New Jersey North","src":"SAR_SC","pos":13.8,"min":6.591,"med":6.904,"max":7.127},
      {"site":"New Jersey North","src":"WTK","pos":14.2,"min":6.814,"med":6.939,"max":7.028},
      {"site":"New Jersey South","src":"SAR_SC","pos":14.8,"min":6.279,"med":6.686,"max":7.052},
      {"site":"New Jersey South","src":"WTK","pos":15.2,"min":6.83,"med":6.943,"max":7.015},
      {"site":"Delaware","src":"SAR_SC","pos":15.8,"min":6.416,"med":6.542,"max":6.676},
      {"site":"Delaware","src":"WTK","pos":16.2,"min":6.819,"med":6.907,"max":6.953},
      {"site":"Maryland","src":"SAR_SC","pos":16.8,"min":6.448,"med":6.632,"max":6.718},
      {"site":"Maryland","src":"WTK","pos":17.2,"min":6.812,"med":6.899,"max":6.977},
      {"site":"Virginia","src":"SAR_SC","pos":17.8,"min":6.239,"med":6.355,"max":6.476},
      {"site":"Virginia","src":"WTK","pos":18.2,"min":6.72,"med":6.785,"max":6.836},
      {"site":"Kitty Hawk","src":"SAR_SC","pos":18.8,"min":6.324,"med":6.411,"max":6.516},
      {"site":"Kitty Hawk","src":"WTK","pos":19.2,"min":6.88,"med":6.995,"max":7.111},
      {"site":"Wilmington West","src":"SAR_SC","pos":19.8,"min":6.386,"med":6.632,"max":6.83},
      {"site":"Wilmington West","src":"WTK","pos":20.2,"min":6.795,"med":6.9,"max":6.99},
      {"site":"Wilmington East","src":"SAR_SC","pos":20.8,"min":6.889,"med":7.228,"max":7.621},
      {"site":"Wilmington East","src":"WTK","pos":21.2,"min":7.057,"med":7.136,"max":7.187},
      {"site":"Grand Strand","src":"SAR_SC","pos":21.8,"min":5.932,"med":6.637,"max":7.114},
      {"site":"Grand Strand","src":"WTK","pos":22.2,"min":6.529,"med":6.982,"max":7.084},
      {"site":"Cape Romain","src":"SAR_SC","pos":22.8,"min":6.258,"med":6.516,"max":6.775},
      {"site":"Cape Romain","src":"WTK","pos":23.2,"min":6.861,"med":6.956,"max":7.017},
      {"site":"Winyah","src":"SAR_SC","pos":23.8,"min":7.6,"med":7.756,"max":7.93},
      {"site":"Winyah","src":"WTK","pos":24.2,"min":7.107,"med":7.134,"max":7.161},
      {"site":"Charleston","src":"SAR_SC","pos":24.8,"min":6.989,"med":7.116,"max":7.212},
      {"site":"Charleston","src":"WTK","pos":25.2,"min":6.901,"med":6.936,"max":6.973}
    ]
  },
  "layer": [
    {
      "data": {"name": "violin"},
      "mark": {"type": "area", "orient": "horizontal", "interpolate": "monotone", "fillOpacity": 0.5, "stroke": "#000000", "strokeOpacity": 0.6, "strokeWidth": 2.5},
      "encoding": {
        "y": {"field": "v", "type": "quantitative", "title": "U(10m) [m s⁻¹]",
          "scale": {"domain": [5.83, 8.0275], "nice": false, "zero": false},
          "axis": {"values": [6, 6.25, 6.5, 6.75, 7, 7.25, 7.5, 7.75, 8], "format": ".2f",
            "titleFontSize": 33, "titleFontWeight": "normal", "titlePadding": 22,
            "labelFontSize": 35, "labelPadding": 6, "tickSize": 12, "tickWidth": 2.5, "tickColor": "#000000",
            "domain": false, "grid": true, "gridColor": "#b0b0b0", "gridWidth": 2.2}},
        "x": {"field": "lo", "type": "quantitative", "title": null,
          "scale": {"domain": [0.24, 26.0], "nice": false, "zero": false},
          "axis": {"values": [1,2,3,4,5,6,7,8,9,10,11,12,13,14,15,16,17,18,19,20,21,22,23,24,25],
            "labelExpr": "['Cape Wind','Rhode Island North','Rhode Island South','OCS-A 500','OCS-A 501','OCS-A 502','OCS-A 503','Fairways North','Fairways South','New York -\u00a0 Unsolicited','New York Lease Area','Hudson North','Hudson South','New Jersey North','New Jersey South','Delaware','Maryland','Virginia','Kitty Hawk','Wilmington West','Wilmington East','Grand Strand','Cape Romain','Winyah','Charleston'][datum.value - 1]",
            "labelAngle": -90, "labelAlign": "right", "labelBaseline": "middle", "labelFontSize": 36, "labelPadding": 17,
            "labelOverlap": false, "labelBound": false, "labelFlush": false, "labelLimit": 1000,
            "tickSize": 12, "tickWidth": 2.5, "tickColor": "#000000",
            "domain": false, "grid": true, "gridColor": "#b0b0b0", "gridWidth": 2.2}},
        "x2": {"field": "hi"},
        "detail": [{"field": "site"}, {"field": "src"}],
        "color": {"field": "src", "type": "nominal",
          "scale": {"domain": ["SAR_SC", "WTK"], "range": ["#0000ff", "#ffa500"]},
          "legend": {"title": null, "orient": "bottom-left", "offset": 18,
            "symbolType": "M-1,-1L4.5,-1L4.5,1L-1,1Z", "symbolSize": 784, "symbolStrokeWidth": 0,
            "symbolOpacity": 1, "labelFontSize": 35, "labelFont": "DejaVu Sans", "labelColor": "#000000", "labelOffset": 69,
            "rowPadding": 22, "padding": 13, "fillColor": "rgba(255,255,255,0.85)", "strokeColor": "#cccccc", "cornerRadius": 6,
            "labelLimit": 400,
            "encode": {"symbols": {"update": {"fillOpacity": {"value": 1}, "opacity": {"value": 1}, "strokeWidth": {"value": 0}}}}}}
      }
    },
    {
      "data": {"name": "stats"},
      "mark": {"type": "rule", "color": "#000000", "strokeWidth": 3.3},
      "encoding": {
        "x": {"field": "pos", "type": "quantitative", "title": null},
        "y": {"field": "min", "type": "quantitative", "title": "U(10m) [m s⁻¹]"},
        "y2": {"field": "max"}
      }
    },
    {
      "data": {"name": "stats"},
      "mark": {"type": "tick", "orient": "horizontal", "color": "#000000", "size": 15, "thickness": 3.3, "opacity": 1},
      "encoding": {
        "x": {"field": "pos", "type": "quantitative", "title": null},
        "y": {"field": "min", "type": "quantitative", "title": "U(10m) [m s⁻¹]"}
      }
    },
    {
      "data": {"name": "stats"},
      "mark": {"type": "tick", "orient": "horizontal", "color": "#000000", "size": 15, "thickness": 3.3, "opacity": 1},
      "encoding": {
        "x": {"field": "pos", "type": "quantitative", "title": null},
        "y": {"field": "max", "type": "quantitative", "title": "U(10m) [m s⁻¹]"}
      }
    },
    {
      "data": {"name": "stats"},
      "mark": {"type": "tick", "orient": "horizontal", "color": "#000000", "size": 15, "thickness": 3.3, "opacity": 1},
      "encoding": {
        "x": {"field": "pos", "type": "quantitative", "title": null},
        "y": {"field": "med", "type": "quantitative", "title": "U(10m) [m s⁻¹]"}
      }
    }
  ]
}
